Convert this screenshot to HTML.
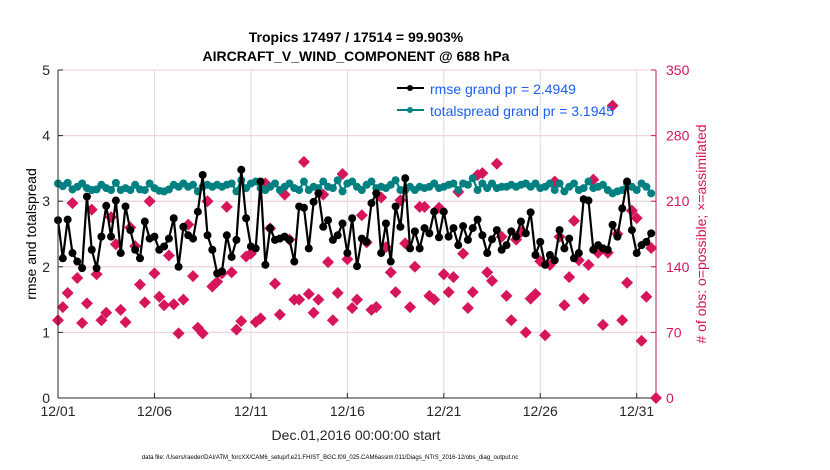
<!DOCTYPE html>
<html><head><meta charset="utf-8"><style>
body{margin:0;background:#fff;}
svg{display:block;font-family:"Liberation Sans",sans-serif;}
</style></head><body>
<svg id="chart" width="830" height="470" viewBox="0 0 830 470">
<text x="356" y="42" text-anchor="middle" font-size="14" font-weight="bold">Tropics 17497 / 17514 = 99.903%</text>
<text x="356" y="61" text-anchor="middle" font-size="14" font-weight="bold">AIRCRAFT_V_WIND_COMPONENT @ 688 hPa</text>
<g id="grid"></g>
<g id="obs"></g>
<g id="spread"></g>
<g id="rmse"></g>
<g id="axes"></g>
<text transform="translate(36,234) rotate(-90)" text-anchor="middle" font-size="14">rmse and totalspread</text>
<text transform="translate(706,234) rotate(-90)" text-anchor="middle" font-size="14" fill="#d6155a"># of obs: o=possible; ×=assimilated</text>
<text x="356" y="440" text-anchor="middle" font-size="14" fill="#262626">Dec.01,2016 00:00:00 start</text>
<text x="330" y="459" text-anchor="middle" font-size="6" fill="#000">data file: /Users/raeder/DAI/ATM_forcXX/CAM6_setup/f.e21.FHIST_BGC.f09_025.CAM6assim.011/Diags_NTrS_2016-12/obs_diag_output.nc</text>
<g>
<line x1="397" y1="88" x2="424" y2="88" stroke="#000" stroke-width="2"/><circle cx="410" cy="88" r="3" fill="#000"/>
<text x="430" y="94" font-size="14" fill="#1a5ff0">rmse grand pr = 2.4949</text>
<line x1="397" y1="110" x2="424" y2="110" stroke="#008080" stroke-width="2"/><circle cx="410" cy="110" r="3" fill="#008080"/>
<text x="430" y="116" font-size="14" fill="#1a5ff0">totalspread grand pr = 3.1945</text>
</g>
</svg>
<script>
const xTickLabels = ["12/01","12/06","12/11","12/16","12/21","12/26","12/31"];
const xTickDays = [0,5,10,15,20,25,30];
const yTicks = [0,1,2,3,4,5];
const yRightTicks = [0,70,140,210,280,350];
const rmse = [2.71,2.13,2.72,2.21,2.08,1.98,3.07,2.26,1.98,2.46,2.93,2.46,3.01,2.21,2.92,2.56,2.26,2.13,2.69,2.43,2.46,2.26,2.31,2.43,2.74,2.00,2.61,2.48,2.43,2.84,3.40,2.48,2.26,1.90,1.93,2.48,2.15,2.41,3.48,2.74,2.31,2.28,
3.30,2.03,2.59,2.41,2.43,2.46,2.41,2.08,2.92,2.90,2.28,2.99,3.12,2.61,2.71,2.41,2.48,2.66,2.21,2.74,2.01,2.43,2.38,2.97,3.12,2.21,2.66,2.08,2.92,2.61,3.35,2.28,2.54,2.28,2.59,2.51,2.84,2.45,2.84,2.46,2.59,
2.33,2.62,2.41,2.59,2.72,2.48,2.21,2.42,2.56,2.26,2.33,2.54,2.46,2.69,2.51,2.83,2.18,2.38,2.03,2.18,2.10,2.56,2.28,2.43,2.13,2.21,3.03,3.01,2.26,2.33,2.28,2.26,2.64,2.46,2.89,3.30,2.56,2.21,2.33,2.38,2.51];
const spread = [3.27,3.23,3.28,3.18,3.22,3.27,3.20,3.17,3.18,3.25,3.20,3.17,3.28,3.17,3.20,3.17,3.25,3.18,3.17,3.27,3.20,3.16,3.15,3.18,3.25,3.22,3.27,3.22,3.25,3.15,3.22,3.25,3.22,3.25,3.22,3.25,3.27,3.15,3.32,3.20,3.27,3.30,
3.20,3.17,3.22,3.27,3.17,3.22,3.27,3.20,3.17,3.30,3.17,3.22,3.20,3.30,3.22,3.20,3.32,3.15,3.27,3.30,3.22,3.17,3.25,3.30,3.20,3.22,3.20,3.25,3.32,3.17,3.17,3.22,3.17,3.22,3.20,3.22,3.27,3.20,3.22,3.25,3.27,
3.17,3.27,3.25,3.35,3.17,3.27,3.20,3.27,3.20,3.22,3.22,3.25,3.22,3.25,3.27,3.22,3.27,3.20,3.22,3.27,3.17,3.27,3.15,3.22,3.27,3.17,3.20,3.30,3.20,3.22,3.25,3.17,3.12,3.15,3.17,3.27,3.22,3.17,3.27,3.22,3.12];
const obs = [83,97,112,208,128,80,101,201,132,83,91,193,164,94,81,182,162,121,102,210,133,108,99,152,100,69,105,185,130,75,69,210,119,124,133,204,134,73,82,151,154,81,
85,229,181,122,89,217,169,105,105,252,111,91,105,217,145,83,112,239,148,96,105,195,166,94,97,214,161,134,113,211,165,97,140,204,204,109,105,203,132,113,129,
220,154,96,113,238,240,134,125,250,172,109,83,169,177,70,106,111,146,67,142,231,172,99,129,189,147,106,142,233,155,78,155,312,175,83,123,200,192,61,108,160];
const NS = "http://www.w3.org/2000/svg";
const L=58,R=656,T=70,B=398,DAYS=31;
const xs = i => L + (i*0.25)/DAYS*(R-L);
const xd = d => L + d/DAYS*(R-L);
const yl = v => B - v/5*(B-T);
const yr = v => B - v/350*(B-T);
function mk(tag, attrs, parent){const e=document.createElementNS(NS,tag);for(const k in attrs)e.setAttribute(k,attrs[k]);parent.appendChild(e);return e;}
const grid=document.getElementById('grid'), axes=document.getElementById('axes');
xTickDays.forEach((d,i)=>{
  const g=mk('line',{x1:xd(d),x2:xd(d),y1:T,y2:B,stroke:'#dcdcdc','stroke-width':1},grid);
  
  
  const t=mk('line',{x1:xd(d),x2:xd(d),y1:B,y2:B-5,stroke:'#262626'},axes);
  
  
  const lb=mk('text',{x:xd(d),y:B+18,'text-anchor':'middle','font-size':14,fill:'#262626'},axes);
  lb.textContent=xTickLabels[i];
  
  
});
yTicks.forEach(v=>{
  const g=mk('line',{x1:L,x2:R,y1:yl(v),y2:yl(v),stroke:'#dcdcdc'},grid);
  
  
  const lb=mk('text',{x:L-8,y:yl(v)+5,'text-anchor':'end','font-size':14,fill:'#262626'},axes);
  lb.textContent=v;
  
  
  const t=mk('line',{x1:L,x2:L+5,y1:yl(v),y2:yl(v),stroke:'#262626'},axes);
  
  
});
yRightTicks.forEach(v=>{
  const g=mk('line',{x1:L,x2:R,y1:yr(v),y2:yr(v),stroke:'#f0d0dc'},grid);
  
  
  const lb=mk('text',{x:R+10,y:yr(v)+5,'font-size':14,fill:'#d6155a'},axes);
  lb.textContent=v;
  
  
  const t=mk('line',{x1:R-5,x2:R,y1:yr(v),y2:yr(v),stroke:'#d6155a'},axes);
  
  
});
const la=mk('line',{x1:L,x2:L,y1:T,y2:B,stroke:'#262626'},axes);


const ba=mk('line',{x1:L,x2:R,y1:B,y2:B,stroke:'#262626'},axes);


const ra=mk('line',{x1:R,x2:R,y1:T,y2:B,stroke:'#d6155a'},axes);


const zm=mk('path',{d:`M${R} ${B-6} L${R+6} ${B} L${R} ${B+6} L${R-6} ${B} Z`,fill:'#d6155a'},axes);


const og=document.getElementById('obs');
obs.forEach((v,i)=>{
  const x=xs(i),y=yr(v);
  const p=mk('path',{d:`M${x} ${y-6} L${x+6} ${y} L${x} ${y+6} L${x-6} ${y} Z`,fill:'#d6155a'},og);
  
  
});
function series(arr,gid,color){
  const g=document.getElementById(gid);
  const pl=mk('polyline',{points:arr.map((v,i)=>xs(i)+','+yl(v)).join(' '),fill:'none',stroke:color,'stroke-width':2.2},g);
  
  
  arr.forEach((v,i)=>{
    const c=mk('circle',{cx:xs(i),cy:yl(v),r:4,fill:color},g);
    
    
  });
}
series(spread,'spread','#008080');
series(rmse,'rmse','#000');
</script>
</body></html>
